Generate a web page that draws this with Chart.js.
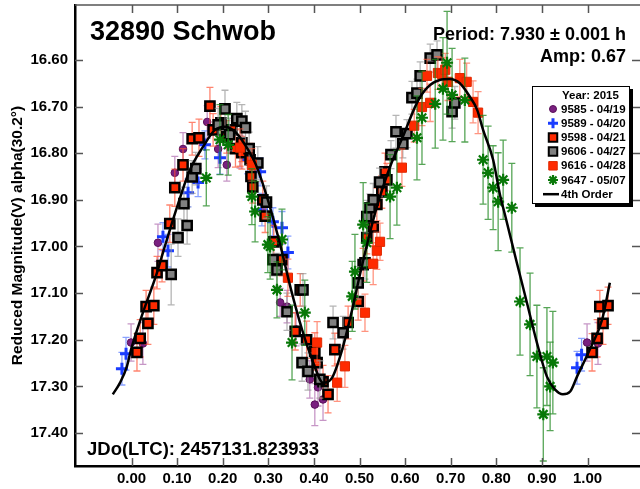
<!DOCTYPE html>
<html>
<head>
<meta charset="utf-8">
<script src="https://cdn.jsdelivr.net/npm/chart.js@4.4.0/dist/chart.umd.min.js"></script>
<style>
  html, body { margin: 0; padding: 0; background: #fff; }
  #wrap { width: 640px; height: 489px; position: relative; }
</style>
</head>
<body>
<div id="wrap"><canvas id="lc"></canvas></div>
<script>
// phase / magnitude / error per session
const p9585 = [-0.001, 0.025, 0.058, 0.095, 0.113, 0.166, 0.190, 0.209, 0.238, 0.326, 0.341, 0.361, 0.391, 0.402, 0.409, 0.420, 0.999, 1.023];
const m9585 = [17.206, 17.208, 16.992, 16.842, 16.791, 16.733, 16.791, 16.825, 16.797, 17.120, 17.129, 17.178, 17.285, 17.339, 17.302, 17.328, 17.206, 17.208];
const e9585 = [0.040, 0.045, 0.040, 0.035, 0.035, 0.035, 0.040, 0.035, 0.035, 0.030, 0.035, 0.035, 0.040, 0.045, 0.040, 0.045, 0.040, 0.045];

const p9589 = [-0.021, -0.012, 0.069, 0.080, 0.124, 0.146, 0.161, 0.194, 0.255, 0.282, 0.286, 0.310, 0.330, 0.343, 0.977, 0.987];
const m9589 = [17.262, 17.230, 16.979, 17.009, 16.885, 16.863, 16.782, 16.810, 16.814, 16.840, 16.921, 16.947, 16.960, 17.013, 17.260, 17.232];
const e9589 = [0.035, 0.035, 0.030, 0.035, 0.030, 0.030, 0.030, 0.035, 0.030, 0.030, 0.035, 0.030, 0.035, 0.035, 0.035, 0.035];

const p9598 = [0.012, 0.019, 0.032, 0.036, 0.049, 0.056, 0.067, 0.084, 0.095, 0.113, 0.133, 0.148, 0.172, 0.179, 0.196, 0.209, 0.220, 0.228, 0.242, 0.242, 0.260, 0.262, 0.266, 0.288, 0.293, 0.312, 0.330, 0.359, 0.370, 0.384, 0.402, 0.407, 0.420, 0.431, 0.446, 0.475, 0.497, 0.508, 0.516, 0.530, 0.538, 0.549, 0.556, 0.560, 1.010, 1.021, 1.027, 1.034, 1.045];
const m9598 = [17.227, 17.197, 17.129, 17.165, 17.127, 17.056, 17.041, 16.951, 16.874, 16.825, 16.769, 16.767, 16.699, 16.750, 16.735, 16.765, 16.750, 16.790, 16.778, 16.799, 16.814, 16.850, 16.872, 16.900, 16.935, 16.990, 17.028, 17.182, 17.093, 17.200, 17.225, 17.249, 17.290, 17.317, 17.221, 17.163, 17.118, 17.039, 16.981, 16.958, 16.910, 16.883, 16.840, 16.857, 17.227, 17.197, 17.129, 17.165, 17.127];
const e9598 = [0.040, 0.040, 0.035, 0.045, 0.040, 0.035, 0.035, 0.040, 0.040, 0.035, 0.035, 0.040, 0.040, 0.035, 0.035, 0.035, 0.035, 0.040, 0.040, 0.035, 0.035, 0.035, 0.035, 0.040, 0.035, 0.035, 0.035, 0.040, 0.035, 0.040, 0.040, 0.040, 0.035, 0.040, 0.035, 0.035, 0.040, 0.035, 0.035, 0.040, 0.035, 0.035, 0.040, 0.035, 0.040, 0.040, 0.035, 0.045, 0.040];

const p9606 = [0.087, 0.102, 0.115, 0.122, 0.133, 0.141, 0.190, 0.205, 0.215, 0.231, 0.242, 0.250, 0.258, 0.277, 0.296, 0.310, 0.319, 0.341, 0.374, 0.376, 0.387, 0.413, 0.442, 0.464, 0.497, 0.512, 0.516, 0.523, 0.530, 0.544, 0.569, 0.580, 0.595, 0.604, 0.615, 0.626, 0.633, 0.655, 0.670, 0.703, 0.709];
const m9606 = [17.060, 16.981, 16.908, 16.955, 16.851, 16.833, 16.739, 16.705, 16.760, 16.726, 16.731, 16.745, 16.790, 16.821, 16.905, 17.028, 17.050, 17.140, 17.249, 17.093, 17.268, 17.285, 17.163, 17.185, 17.078, 17.035, 16.936, 16.917, 16.900, 16.862, 16.803, 16.754, 16.780, 16.758, 16.681, 16.671, 16.634, 16.596, 16.589, 16.711, 16.692];
const e9606 = [0.065, 0.040, 0.035, 0.040, 0.035, 0.035, 0.035, 0.040, 0.035, 0.035, 0.035, 0.035, 0.035, 0.035, 0.035, 0.035, 0.035, 0.040, 0.040, 0.035, 0.040, 0.040, 0.035, 0.035, 0.035, 0.035, 0.035, 0.030, 0.035, 0.030, 0.030, 0.035, 0.030, 0.030, 0.035, 0.030, 0.030, 0.030, 0.030, 0.035, 0.035];

const p9616 = [0.238, 0.264, 0.343, 0.407, 0.451, 0.468, 0.512, 0.530, 0.538, 0.545, 0.593, 0.620, 0.637, 0.648, 0.655, 0.672, 0.681, 0.688, 0.694, 0.720, 0.735, 0.749, 0.760];
const m9616 = [16.788, 16.825, 17.067, 17.206, 17.292, 17.257, 17.142, 17.037, 17.009, 16.990, 16.831, 16.741, 16.701, 16.634, 16.692, 16.628, 16.630, 16.621, 16.647, 16.639, 16.647, 16.690, 16.713];
const e9616 = [0.040, 0.035, 0.040, 0.045, 0.040, 0.045, 0.040, 0.045, 0.040, 0.040, 0.040, 0.035, 0.040, 0.035, 0.040, 0.035, 0.035, 0.035, 0.040, 0.040, 0.040, 0.045, 0.045];

const p9647 = [0.164, 0.194, 0.212, 0.264, 0.271, 0.299, 0.304, 0.319, 0.330, 0.352, 0.380, 0.484, 0.490, 0.508, 0.516, 0.567, 0.582, 0.626, 0.637, 0.666, 0.683, 0.692, 0.703, 0.731, 0.771, 0.782, 0.793, 0.804, 0.815, 0.834, 0.852, 0.874, 0.889, 0.903, 0.911, 0.918, 0.924];
const m9647 = [16.853, 16.771, 16.782, 16.893, 16.925, 16.996, 17.000, 17.093, 16.985, 17.206, 17.142, 17.107, 17.054, 16.953, 16.992, 16.893, 16.874, 16.767, 16.724, 16.694, 16.662, 16.606, 16.675, 16.686, 16.814, 16.842, 16.874, 16.904, 16.857, 16.917, 17.118, 17.167, 17.236, 17.360, 17.236, 17.300, 17.249];
const e9647 = [0.060, 0.075, 0.065, 0.060, 0.065, 0.060, 0.070, 0.060, 0.065, 0.080, 0.070, 0.075, 0.080, 0.090, 0.085, 0.090, 0.080, 0.090, 0.100, 0.095, 0.110, 0.110, 0.100, 0.090, 0.095, 0.100, 0.090, 0.105, 0.085, 0.095, 0.115, 0.110, 0.110, 0.100, 0.105, 0.095, 0.110];

// 4th order fit
const fitPhase = [-0.041, -0.025, -0.010, -0.001, 0.025, 0.056, 0.069, 0.100, 0.128, 0.157, 0.183, 0.205, 0.227, 0.249, 0.273, 0.299, 0.326, 0.350, 0.374, 0.400, 0.420, 0.440, 0.462, 0.484, 0.501, 0.523, 0.538, 0.567, 0.595, 0.626, 0.648, 0.676, 0.698, 0.720, 0.742, 0.758, 0.771, 0.793, 0.808, 0.819, 0.845, 0.867, 0.889, 0.911, 0.929, 0.946, 0.962, 0.977, 1.005, 1.032, 1.049];
const fitMag = [17.317, 17.292, 17.257, 17.221, 17.142, 17.056, 17.013, 16.915, 16.836, 16.786, 16.750, 16.743, 16.754, 16.782, 16.825, 16.900, 16.996, 17.093, 17.178, 17.253, 17.292, 17.281, 17.221, 17.135, 17.060, 16.970, 16.915, 16.829, 16.765, 16.692, 16.660, 16.643, 16.641, 16.650, 16.679, 16.707, 16.750, 16.814, 16.889, 16.932, 17.035, 17.120, 17.206, 17.279, 17.307, 17.317, 17.311, 17.279, 17.221, 17.157, 17.078];

const xTicks = [0, 0.1, 0.2, 0.3, 0.4, 0.5, 0.6, 0.7, 0.8, 0.9, 1.0];
const yTicks = [16.6, 16.7, 16.8, 16.9, 17.0, 17.1, 17.2, 17.3, 17.4];

const FONT = 'Arial, "Liberation Sans", sans-serif';
Chart.defaults.font.family = FONT;
Chart.defaults.color = '#000';

const pts = (px, mx) => px.map((v, i) => ({ x: v, y: mx[i] }));

const sessions = [
  { label: '9647 - 05/07', p: p9647, m: m9647, e: e9647, order: 1,
    style: { pointStyle: 'star', pointRadius: 6, pointBorderWidth: 2.2, pointBorderColor: '#087808', pointBackgroundColor: '#087808' },
    bar: 'rgba(30,135,30,0.75)' },
  { label: '9616 - 04/28', p: p9616, m: m9616, e: e9616, order: 2,
    style: { pointStyle: 'rect', pointRadius: 6.5, pointBorderWidth: 1, pointBorderColor: '#e02a00', pointBackgroundColor: '#ff2a00' },
    bar: 'rgba(255,90,60,0.65)' },
  { label: '9606 - 04/27', p: p9606, m: m9606, e: e9606, order: 3,
    style: { pointStyle: 'rect', pointRadius: 6.5, pointBorderWidth: 2.5, pointBorderColor: '#000', pointBackgroundColor: '#808080' },
    bar: 'rgba(150,150,150,0.7)' },
  { label: '9598 - 04/21', p: p9598, m: m9598, e: e9598, order: 4,
    style: { pointStyle: 'rect', pointRadius: 6.5, pointBorderWidth: 2.5, pointBorderColor: '#000', pointBackgroundColor: '#ff2a00' },
    bar: 'rgba(255,80,50,0.7)' },
  { label: '9589 - 04/20', p: p9589, m: m9589, e: e9589, order: 5,
    style: { pointStyle: 'cross', pointRadius: 6, pointBorderWidth: 3, pointBorderColor: '#1a3cff', pointBackgroundColor: '#1a3cff' },
    bar: 'rgba(60,100,255,0.6)' },
  { label: '9585 - 04/19', p: p9585, m: m9585, e: e9585, order: 6,
    style: { pointStyle: 'circle', pointRadius: 3.8, pointBorderWidth: 1, pointBorderColor: '#5a105a', pointBackgroundColor: '#7a2080' },
    bar: 'rgba(160,80,160,0.6)' },
];

const datasets = [{
  label: '4th Order',
  data: pts(fitPhase, fitMag),
  showLine: true,
  borderColor: '#000',
  borderWidth: 2.5,
  pointRadius: 0,
  cubicInterpolationMode: 'monotone',
  order: 0
}];
sessions.forEach(s => {
  datasets.push(Object.assign({ label: s.label, data: pts(s.p, s.m), errs: s.e, barColor: s.bar, order: s.order }, s.style));
});

// vertical error bars under each session's markers
const errorBars = {
  id: 'errorBars',
  beforeDatasetDraw(chart, args) {
    const ds = chart.data.datasets[args.index];
    if (!ds.errs) return;
    const { ctx, scales: { x, y } } = chart;
    ctx.save();
    ctx.strokeStyle = ds.barColor;
    ctx.lineWidth = 1.3;
    ds.data.forEach((d, i) => {
      const px = x.getPixelForValue(d.x);
      const y1 = y.getPixelForValue(d.y - ds.errs[i]);
      const y2 = y.getPixelForValue(d.y + ds.errs[i]);
      ctx.beginPath();
      ctx.moveTo(px, y1); ctx.lineTo(px, y2);
      ctx.moveTo(px - 3.5, y1); ctx.lineTo(px + 3.5, y1);
      ctx.moveTo(px - 3.5, y2); ctx.lineTo(px + 3.5, y2);
      ctx.stroke();
    });
    ctx.restore();
  }
};

// frame, inward ticks, texts and legend box
const decor = {
  id: 'decor',
  afterDraw(chart) {
    const { ctx, chartArea: a, scales: { x, y } } = chart;
    ctx.save();
    ctx.strokeStyle = '#555';
    ctx.lineWidth = 1.5;
    ctx.beginPath();
    ctx.moveTo(a.left, a.top); ctx.lineTo(640, a.top);
    yTicks.forEach(v => {
      const py = Math.round(y.getPixelForValue(v)) + 0.5;
      ctx.moveTo(a.left, py); ctx.lineTo(a.left + 8, py);
      ctx.moveTo(632, py); ctx.lineTo(640, py);
    });
    xTicks.forEach(v => {
      const px = Math.round(x.getPixelForValue(v)) + 0.5;
      ctx.moveTo(px, a.bottom); ctx.lineTo(px, a.bottom - 8);
      ctx.moveTo(px, a.top); ctx.lineTo(px, a.top + 8);
    });
    ctx.stroke();

    ctx.fillStyle = '#000';
    ctx.textBaseline = 'alphabetic';
    ctx.font = 'bold 27px ' + FONT;
    ctx.textAlign = 'left';
    ctx.fillText('32890 Schwob', 90, 40);
    ctx.font = 'bold 18px ' + FONT;
    ctx.textAlign = 'right';
    ctx.fillText('Period: 7.930 \u00b1 0.001 h', 626, 40);
    ctx.fillText('Amp: 0.67', 626, 62);
    ctx.textAlign = 'left';
    ctx.font = 'bold 18.5px ' + FONT;
    ctx.fillText('JDo(LTC): 2457131.823933', 87, 455);

    // legend
    const L = 532, T = 86, R = 630, B = 204;
    ctx.fillStyle = '#000';
    ctx.fillRect(L + 3, T + 3, R - L, B - T);
    ctx.fillStyle = '#fff';
    ctx.fillRect(L, T, R - L, B - T);
    ctx.strokeStyle = '#000';
    ctx.lineWidth = 1;
    ctx.strokeRect(L + 0.5, T + 0.5, R - L - 1, B - T - 1);
    ctx.font = 'bold 11.5px ' + FONT;
    ctx.fillStyle = '#000';
    ctx.textBaseline = 'middle';
    ctx.fillText('Year: 2015', 562, 96);
    const rows = sessions.slice().reverse();
    rows.forEach((s, i) => {
      const cy = 109 + i * 14.2;
      ctx.save();
      ctx.fillStyle = s.style.pointBackgroundColor;
      ctx.strokeStyle = s.style.pointBorderColor;
      ctx.lineWidth = s.style.pointStyle === 'rect' ? Math.min(s.style.pointBorderWidth, 2) : s.style.pointBorderWidth;
      Chart.helpers.drawPoint(ctx, {
        pointStyle: s.style.pointStyle,
        radius: s.style.pointStyle === 'circle' ? 3.5 : (s.style.pointStyle === 'rect' ? 6 : 5),
        borderWidth: ctx.lineWidth,
        rotation: 0
      }, 553, cy);
      ctx.restore();
      ctx.fillStyle = '#000';
      ctx.fillText(s.label, 561, cy + 0.5);
    });
    const ly = 109 + 6 * 14.2;
    ctx.strokeStyle = '#000';
    ctx.lineWidth = 2.5;
    ctx.beginPath();
    ctx.moveTo(543, ly); ctx.lineTo(559, ly);
    ctx.stroke();
    ctx.fillText('4th Order', 561, ly + 0.5);
    ctx.restore();
  }
};

new Chart(document.getElementById('lc'), {
  type: 'scatter',
  data: { datasets },
  options: {
    responsive: true,
    maintainAspectRatio: false,
    animation: false,
    layout: { autoPadding: false, padding: { top: 5, right: 1, left: 0, bottom: 0 } },
    plugins: { legend: { display: false }, tooltip: { enabled: false } },
    scales: {
      x: {
        type: 'linear',
        min: -0.1239,
        max: 1.1129,
        grid: { display: false, drawTicks: false },
        border: { color: '#000', width: 2.5 },
        ticks: { font: { size: 15, weight: 'bold' }, padding: 4, callback: v => v.toFixed(2) },
        afterBuildTicks: axis => { axis.ticks = xTicks.map(v => ({ value: v })); },
        afterFit: axis => { axis.height = 23; axis.paddingLeft = 0; axis.paddingRight = 0; }
      },
      y: {
        type: 'linear',
        reverse: true,
        min: 16.4822,
        max: 17.4707,
        grid: { display: false, drawTicks: false },
        border: { color: '#000', width: 2.5 },
        ticks: { font: { size: 15, weight: 'bold' }, padding: 7, callback: v => v.toFixed(2) },
        afterBuildTicks: axis => { axis.ticks = yTicks.map(v => ({ value: v })); },
        afterFit: axis => { axis.width = 75; axis.paddingTop = 0; axis.paddingBottom = 0; },
        title: {
          display: true,
          text: 'Reduced Magnitude(V) alpha(30.2\u00b0)',
          font: { size: 15.5, weight: 'bold' },
          padding: { top: 8, bottom: 0 }
        }
      }
    }
  },
  plugins: [errorBars, decor]
});
</script>
</body>
</html>
